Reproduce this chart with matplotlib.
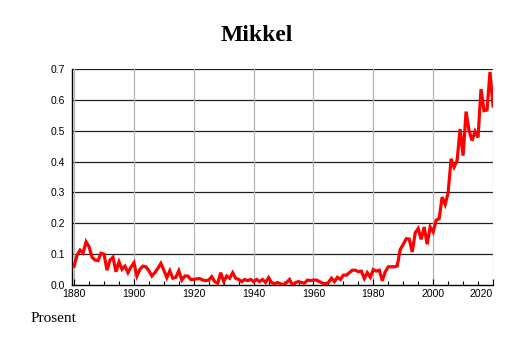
import numpy as np
import matplotlib
matplotlib.use("Agg")
import matplotlib.pyplot as plt

# Andel (prosent) med navnet Mikkel, 1880-2020
years = np.arange(1880, 2021)
share = [
    0.061, 0.097, 0.113, 0.104, 0.140, 0.124, 0.090, 0.081, 0.079, 0.103,  # 1880
    0.100, 0.048, 0.081, 0.090, 0.043, 0.075, 0.051, 0.061, 0.040, 0.058,  # 1890
    0.072, 0.029, 0.051, 0.061, 0.059, 0.046, 0.029, 0.040, 0.054, 0.070,  # 1900
    0.048, 0.024, 0.046, 0.022, 0.025, 0.046, 0.016, 0.029, 0.029, 0.018,  # 1910
    0.018, 0.020, 0.021, 0.016, 0.014, 0.016, 0.027, 0.011, 0.005, 0.040,  # 1920
    0.011, 0.029, 0.022, 0.040, 0.022, 0.018, 0.011, 0.018, 0.014, 0.018,  # 1930
    0.011, 0.018, 0.011, 0.018, 0.008, 0.024, 0.008, 0.004, 0.008, 0.004,  # 1940
    0.000, 0.008, 0.018, 0.000, 0.008, 0.011, 0.008, 0.006, 0.016, 0.014,  # 1950
    0.016, 0.016, 0.011, 0.006, 0.004, 0.008, 0.022, 0.011, 0.025, 0.018,  # 1960
    0.032, 0.032, 0.040, 0.048, 0.048, 0.043, 0.045, 0.021, 0.040, 0.025,  # 1970
    0.050, 0.045, 0.048, 0.014, 0.043, 0.059, 0.059, 0.059, 0.062, 0.115,  # 1980
    0.132, 0.150, 0.149, 0.107, 0.169, 0.183, 0.148, 0.188, 0.132, 0.188,  # 1990
    0.172, 0.210, 0.215, 0.285, 0.261, 0.298, 0.409, 0.382, 0.403, 0.505,  # 2000
    0.419, 0.562, 0.500, 0.468, 0.498, 0.478, 0.635, 0.565, 0.567, 0.690,  # 2010
    0.580,                                                                  # 2020
]
x_ticks = [1880, 1900, 1920, 1940, 1960, 1980, 2000, 2020]
y_ticks = [0.0, 0.1, 0.2, 0.3, 0.4, 0.5, 0.6, 0.7]

fig = plt.figure(figsize=(5.14, 3.43), dpi=100)
ax = fig.add_axes([72 / 514, 1 - 285 / 343, (493 - 72) / 514, (285 - 69) / 343])

for yt in y_ticks[1:]:
    ax.axhline(yt, color="#202020", lw=0.9, zorder=1)
for xt in x_ticks:
    ax.axvline(xt, color="#b4b4b4", lw=0.9, zorder=1)

ax.plot(years, share, color="red", lw=2.3, zorder=3, solid_joinstyle="miter")

ax.set_xlim(1879.3, 2020)
ax.set_ylim(0, 0.7)
ax.set_xticks(x_ticks)
ax.set_xticks(np.arange(1885, 2020, 5), minor=True)
ax.set_yticks(y_ticks)
ax.set_yticklabels([f"{v:.1f}" for v in y_ticks])

for side in ["top", "right"]:
    ax.spines[side].set_visible(False)
ax.spines["left"].set_linewidth(1.0)
ax.spines["bottom"].set_linewidth(1.0)

ax.tick_params(axis="x", which="major", direction="in", length=4, width=0.8,
               labelsize=7.5, pad=3)
ax.tick_params(axis="x", which="minor", direction="in", length=3, width=0.8)
ax.tick_params(axis="y", length=0, labelsize=7.5, pad=5)
for lab in ax.get_xticklabels() + ax.get_yticklabels():
    lab.set_family(["Liberation Sans", "DejaVu Sans"])
ax.get_xticklabels()[-1].set_horizontalalignment("right")

fig.text(257 / 514, 1 - 41 / 343, "Mikkel", ha="center", va="baseline",
         fontsize=17, fontweight="bold", family=["Liberation Serif", "DejaVu Serif"])
fig.text(31 / 514, 1 - 322 / 343, "Prosent", ha="left", va="baseline",
         fontsize=11, family=["Liberation Serif", "DejaVu Serif"])

fig.savefig("out.png", dpi=100)
